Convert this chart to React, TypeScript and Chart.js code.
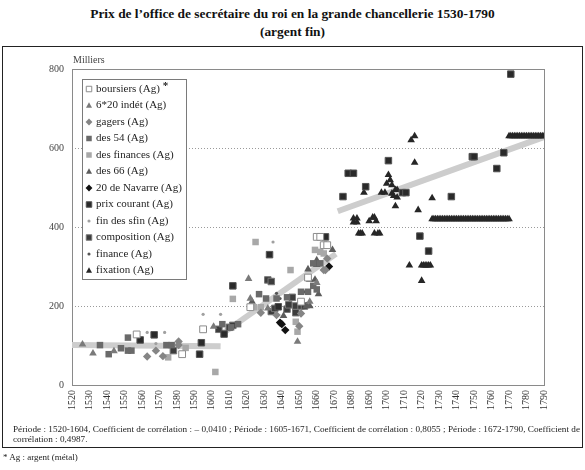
import React, { useEffect, useRef } from 'react';
import { Chart, registerables } from 'chart.js';

Chart.register(...registerables);

type P = [number, number];

// Axis definitions
const xMin = 1520;
const xMax = 1790;
const xStep = 10;
const yMin = 0;
const yMax = 800;
const yStep = 200;

// Series values [year, thousands of livres in fine silver]
const boursiers: P[] = [[1557, 128], [1583, 78], [1595, 141], [1622, 197], [1651, 211], [1655, 272], [1660, 375], [1662, 375], [1664, 354], [1666, 354]];
const indet620: P[] = [[1526, 103], [1532, 80], [1544, 86], [1601, 148], [1621, 269], [1622, 219], [1632, 194], [1649, 110], [1656, 211], [1660, 259]];
const gagers: P[] = [[1563, 72], [1568, 87], [1572, 73], [1581, 110], [1581, 101], [1628, 183], [1637, 177], [1651, 181], [1650, 149], [1665, 291], [1664, 291], [1666, 320]];
const des54: P[] = [[1536, 101], [1541, 78], [1548, 93], [1552, 87], [1554, 87], [1552, 120], [1574, 101], [1577, 101], [1606, 154], [1611, 146], [1615, 154], [1627, 230], [1631, 219], [1637, 219], [1643, 222], [1651, 236], [1655, 236], [1658, 251], [1660, 242], [1658, 308], [1662, 308]];
const desFinances: P[] = [[1575, 70], [1585, 94], [1602, 33], [1612, 218], [1625, 362], [1645, 291], [1624, 197], [1628, 197], [1648, 160], [1649, 135], [1659, 342], [1662, 337], [1664, 333]];
const des66: P[] = [[1623, 211], [1641, 175], [1654, 200], [1656, 200], [1656, 267], [1661, 230], [1660, 316], [1660, 304], [1669, 342], [1655, 293], [1659, 267]];
const navarre: P[] = [[1639, 158], [1640, 154], [1642, 139], [1667, 300]];
const prixCourant: P[] = [[1559, 114], [1567, 127], [1594, 107], [1593, 78], [1607, 129], [1612, 251], [1633, 330], [1638, 198], [1665, 375], [1675, 477], [1678, 536], [1681, 536], [1688, 502], [1701, 568], [1709, 487], [1711, 487], [1719, 377], [1724, 339], [1737, 477], [1749, 578], [1750, 578], [1763, 548], [1767, 588], [1771, 787]];
const finDesSfin: P[] = [[1563, 133], [1573, 133], [1568, 105], [1595, 179], [1605, 179], [1635, 362]];
const composition: P[] = [[1578, 87], [1604, 141], [1610, 146], [1612, 151], [1632, 266], [1634, 262], [1634, 186], [1636, 194], [1643, 192], [1644, 203], [1646, 222], [1648, 183], [1648, 200], [1651, 200], [1653, 200]];
const finance: P[] = [[1637, 232], [1639, 219], [1653, 236]];
const fixation: P[] = [
  [1681, 422], [1683, 422], [1681, 412], [1683, 412], [1684, 384], [1685, 384], [1686, 384], [1687, 487],
  [1690, 415], [1692, 424], [1693, 424], [1694, 415], [1693, 384], [1695, 384], [1696, 384],
  [1697, 487], [1699, 487], [1700, 510], [1701, 532], [1702, 519], [1703, 506], [1703, 485], [1704, 479],
  [1705, 494], [1705, 453], [1706, 494], [1706, 475], [1713, 303], [1714, 620], [1716, 630], [1716, 563],
  [1718, 443], [1720, 264], [1720, 303], [1721, 303], [1722, 303], [1723, 303], [1724, 303], [1725, 303],
  [1726, 473],
  [1726, 420], [1727, 420], [1728, 420], [1729, 420], [1730, 420], [1731, 420], [1732, 420], [1733, 420],
  [1734, 420], [1735, 420], [1736, 420], [1737, 420], [1738, 420], [1739, 420], [1740, 420], [1741, 420],
  [1742, 420], [1743, 420], [1744, 420], [1745, 420], [1746, 420], [1747, 420], [1748, 420], [1749, 420],
  [1750, 420], [1751, 420], [1752, 420], [1753, 420], [1754, 420], [1755, 420], [1756, 420], [1757, 420],
  [1758, 420], [1759, 420], [1760, 420], [1761, 420], [1762, 420], [1763, 420], [1764, 420], [1765, 420],
  [1766, 420], [1767, 420], [1768, 420], [1769, 420], [1770, 420],
  [1770, 630], [1771, 630], [1772, 630], [1773, 630], [1774, 630], [1775, 630], [1776, 630], [1777, 630],
  [1778, 630], [1779, 630], [1780, 630], [1781, 630], [1782, 630], [1783, 630], [1784, 630], [1785, 630],
  [1786, 630], [1787, 630], [1788, 630], [1789, 630], [1790, 630],
];

// Regression lines per period
const trend1: P[] = [[1520, 101], [1605, 98]];
const trend2: P[] = [[1606, 130], [1671, 332]];
const trend3: P[] = [[1672, 440], [1790, 628]];

const title1 = 'Prix de l\u2019office de secrétaire du roi en la grande chancellerie 1530-1790';
const title2 = '(argent fin)';
const yUnit = 'Milliers';
const noteLine1 = 'Période : 1520-1604, Coefficient de corrélation : \u2013 0,0410 ; Période : 1605-1671, Coefficient de corrélation : 0,8055 ; Période : 1672-1790, Coefficient de';
const noteLine2 = 'corrélation : 0,4987.';
const footnote = '* Ag : argent (métal)';

const SERIF = '"Liberation Serif", "Times New Roman", serif';

type Shape = 'rect' | 'triangle' | 'rectRot' | 'circle';
interface Series { label: string; data: P[]; shape: Shape; fill: string; stroke: string; r: number; bw: number }

const series: Series[] = [
  { label: 'boursiers (Ag)', data: boursiers, shape: 'rect', fill: '#ffffff', stroke: '#8c8c8c', r: 4.8, bw: 1 },
  { label: '6*20 indét (Ag)', data: indet620, shape: 'triangle', fill: '#7a7a7a', stroke: '#7a7a7a', r: 4.4, bw: 0 },
  { label: 'gagers (Ag)', data: gagers, shape: 'rectRot', fill: '#858585', stroke: '#858585', r: 4.2, bw: 0 },
  { label: 'des 54 (Ag)', data: des54, shape: 'rect', fill: '#6a6a6a', stroke: '#6a6a6a', r: 4.6, bw: 0 },
  { label: 'des finances (Ag)', data: desFinances, shape: 'rect', fill: '#a8a8a8', stroke: '#a8a8a8', r: 4.6, bw: 0 },
  { label: 'des 66 (Ag)', data: des66, shape: 'triangle', fill: '#5c5c5c', stroke: '#5c5c5c', r: 4.4, bw: 0 },
  { label: '20 de Navarre (Ag)', data: navarre, shape: 'rectRot', fill: '#111111', stroke: '#111111', r: 4.2, bw: 0 },
  { label: 'prix courant (Ag)', data: prixCourant, shape: 'rect', fill: '#2a2a2a', stroke: '#555555', r: 4.6, bw: 1 },
  { label: 'fin des sfin (Ag)', data: finDesSfin, shape: 'circle', fill: '#a0a0a0', stroke: '#a0a0a0', r: 1.6, bw: 0 },
  { label: 'composition (Ag)', data: composition, shape: 'rect', fill: '#3c3c3c', stroke: '#777777', r: 4.6, bw: 1 },
  { label: 'finance (Ag)', data: finance, shape: 'circle', fill: '#555555', stroke: '#555555', r: 1.6, bw: 0 },
  { label: 'fixation (Ag)', data: fixation, shape: 'triangle', fill: '#262626', stroke: '#262626', r: 4.4, bw: 0 },
];

function drawShape(ctx: CanvasRenderingContext2D, s: Series, x: number, y: number, size: number) {
  ctx.save();
  ctx.fillStyle = s.fill;
  ctx.strokeStyle = s.stroke;
  ctx.lineWidth = 1;
  ctx.beginPath();
  if (s.shape === 'rect') {
    ctx.rect(x - size / 2, y - size / 2, size, size);
  } else if (s.shape === 'triangle') {
    ctx.moveTo(x, y - size * 0.6);
    ctx.lineTo(x + size * 0.55, y + size * 0.4);
    ctx.lineTo(x - size * 0.55, y + size * 0.4);
    ctx.closePath();
  } else if (s.shape === 'rectRot') {
    const h = size * 0.62;
    ctx.moveTo(x, y - h);
    ctx.lineTo(x + h, y);
    ctx.lineTo(x, y + h);
    ctx.lineTo(x - h, y);
    ctx.closePath();
  } else {
    ctx.arc(x, y, size * 0.28, 0, Math.PI * 2);
  }
  ctx.fill();
  if (s.bw > 0) {
    ctx.translate(0.5, 0.5);
    ctx.stroke();
  }
  ctx.restore();
}

const decorPlugin = {
  id: 'decor',
  beforeDatasetsDraw(chart: any) {
    const { ctx, chartArea, scales } = chart;
    const ys = scales.y;
    ctx.save();
    // dotted grid lines at inner ticks
    ctx.strokeStyle = '#9a9a9a';
    ctx.lineWidth = 1;
    ctx.setLineDash([1, 2]);
    ys.ticks.forEach((t: any) => {
      if (t.value <= yMin || t.value >= yMax) return;
      const y = Math.round(ys.getPixelForValue(t.value)) + 0.5;
      ctx.beginPath();
      ctx.moveTo(chartArea.left, y);
      ctx.lineTo(chartArea.right, y);
      ctx.stroke();
    });
    ctx.setLineDash([]);
    // plot frame
    ctx.strokeStyle = '#8a8a8a';
    ctx.strokeRect(Math.round(chartArea.left) + 0.5, Math.round(chartArea.top) + 0.5,
      Math.round(chartArea.right - chartArea.left), Math.round(chartArea.bottom - chartArea.top));
    // unit label
    ctx.fillStyle = '#444';
    ctx.font = `10px ${SERIF}`;
    ctx.textAlign = 'left';
    ctx.textBaseline = 'middle';
    ctx.fillText(yUnit, chartArea.left + 1, chartArea.top - 9);
    ctx.restore();
  },
  afterDraw(chart: any) {
    const { ctx, chartArea } = chart;
    const bx = chartArea.left + 10;
    const by = chartArea.top + 10;
    const bw = 104;
    const rowH = 16.5;
    const bh = rowH * series.length + 2;
    ctx.save();
    ctx.fillStyle = '#ffffff';
    ctx.fillRect(bx, by, bw, bh);
    ctx.strokeStyle = '#7a7a7a';
    ctx.lineWidth = 1;
    ctx.strokeRect(bx + 0.5, by + 0.5, bw, bh);
    ctx.font = `11px ${SERIF}`;
    ctx.textBaseline = 'middle';
    ctx.textAlign = 'left';
    series.forEach((s, i) => {
      const cy = by + 10 + i * rowH;
      drawShape(ctx, s, bx + 7, cy, 5.5);
      ctx.fillStyle = '#1e1e1e';
      ctx.fillText(s.label, bx + 14, cy);
      if (i === 0) {
        const w = ctx.measureText(s.label).width;
        ctx.font = `bold 11px ${SERIF}`;
        ctx.fillText('*', bx + 14 + w + 3, cy - 3);
        ctx.font = `11px ${SERIF}`;
      }
    });
    ctx.restore();
  },
};

export default function App() {
  const canvasRef = useRef<HTMLCanvasElement | null>(null);

  useEffect(() => {
    document.body.style.margin = '0';
    const canvas = canvasRef.current;
    if (!canvas) return;

    const pointSets = series.map((s) => ({
      type: 'scatter' as const,
      label: s.label,
      data: s.data.map(([x, y]) => ({ x, y })),
      pointStyle: s.shape,
      pointRadius: s.r,
      pointBackgroundColor: s.fill,
      pointBorderColor: s.stroke,
      pointBorderWidth: s.bw,
      order: 1,
    }));
    const trendSets = [trend1, trend2, trend3].map((t, i) => ({
      type: 'scatter' as const,
      label: `trend${i + 1}`,
      data: t.map(([x, y]) => ({ x, y })),
      showLine: true,
      borderColor: '#cdcdcd',
      borderWidth: 6,
      borderCapStyle: 'butt' as const,
      pointRadius: 0,
      order: 10,
    }));

    const chart = new Chart(canvas, {
      type: 'scatter',
      data: { datasets: [...trendSets, ...pointSets] as any },
      options: {
        animation: false,
        responsive: false,
        events: [],
        layout: { padding: { left: 32, top: 69, right: 41, bottom: 0 } },
        plugins: { legend: { display: false }, tooltip: { enabled: false }, title: { display: false } },
        scales: {
          x: {
            type: 'linear',
            min: xMin,
            max: xMax,
            ticks: {
              stepSize: xStep,
              autoSkip: false,
              minRotation: 90,
              maxRotation: 90,
              padding: 5,
              color: '#333',
              font: { family: SERIF, size: 10 },
              callback: (v: any) => String(v),
            },
            grid: { display: false, drawTicks: false },
            border: { display: false },
            afterFit: (s: any) => { s.height = 85; },
          },
          y: {
            type: 'linear',
            min: yMin,
            max: yMax,
            ticks: {
              stepSize: yStep,
              padding: 8,
              color: '#444',
              font: { family: SERIF, size: 10 },
              callback: (v: any) => String(v),
            },
            grid: { display: false, drawTicks: false },
            border: { display: false },
            afterFit: (s: any) => { s.width = 40; },
          },
        },
      },
      plugins: [decorPlugin],
    });
    return () => chart.destroy();
  }, []);

  const serif = SERIF;
  return (
    <div style={{ position: 'relative', width: 585, height: 470, background: '#fff', overflow: 'hidden' }}>
      <div style={{ position: 'absolute', left: 0, top: 5, width: 585, textAlign: 'center', fontFamily: serif, fontWeight: 'bold', fontSize: 13.4, lineHeight: '18px', color: '#111' }}>
        <div>{title1}</div>
        <div>{title2}</div>
      </div>
      <div style={{ position: 'absolute', left: 2, top: 46, width: 581, height: 402, border: '1px solid #222', boxSizing: 'border-box' }} />
      <canvas ref={canvasRef} width={585} height={470} style={{ position: 'absolute', left: 0, top: 0, width: 585, height: 470 }} />
      <div style={{ position: 'absolute', left: 13, top: 424, width: 567, fontFamily: serif, fontSize: 9.2, lineHeight: '10px', color: '#222' }}>
        <div style={{ textAlign: 'justify', textAlignLast: 'justify', whiteSpace: 'nowrap', overflow: 'hidden' } as any}>{noteLine1}</div>
        <div>{noteLine2}</div>
      </div>
      <div style={{ position: 'absolute', left: 3, top: 452, fontFamily: serif, fontSize: 9, lineHeight: '10px', color: '#222' }}>{footnote}</div>
    </div>
  );
}
